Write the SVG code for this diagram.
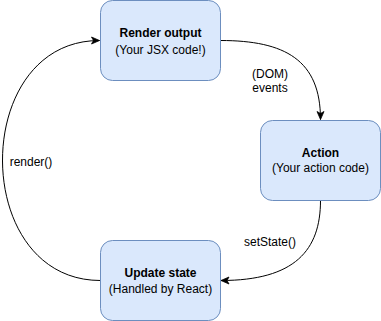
<svg xmlns="http://www.w3.org/2000/svg" width="381" height="321" viewBox="0 0 381 321">
  <style>
    .box { fill: #dae8fc; stroke: #6c8ebf; stroke-width: 1; }
    .t { font-family: "Liberation Sans", Arial, Helvetica, sans-serif; font-size: 12px; fill: #000; text-anchor: middle; }
    .b { font-weight: bold; }
    .edge { fill: none; stroke: #000; stroke-width: 1; }
  </style>
  <defs>
    <marker id="arrow" markerUnits="userSpaceOnUse" markerWidth="10" markerHeight="10" viewBox="0 0 10 10" refX="9" refY="5" orient="auto">
      <path d="M1,1.5 L9,5 L1,8.5 L3,5 z" fill="#000" stroke="#000" stroke-width="0.8"/>
    </marker>
  </defs>
  <rect width="381" height="321" fill="#fff"/>

  <g id="connectors">
    <path class="edge" d="M220.5,40.5 C285,40.5 320.5,60 320.5,119.5" marker-end="url(#arrow)"/>
    <path class="edge" d="M320.5,200.5 C320.5,250 295,280.5 221,280.5" marker-end="url(#arrow)"/>
    <path class="edge" d="M100.5,280.5 C-30,280.5 -30,40.5 99.5,40.5" marker-end="url(#arrow)"/>
    <text class="t" x="270" y="78">(DOM)</text>
    <text class="t" x="270" y="92">events</text>
    <text class="t" x="270" y="246">setState()</text>
    <text class="t" x="31" y="166">render()</text>
  </g>

  <g id="render-output">
    <rect class="box" x="100.5" y="0.5" width="120" height="80" rx="12" ry="12"/>
    <text class="t b" x="160.5" y="37">Render output</text>
    <text class="t" x="160.5" y="54">(Your JSX code!)</text>
  </g>

  <g id="action">
    <rect class="box" x="260.5" y="120.5" width="120" height="80" rx="12" ry="12"/>
    <text class="t b" x="320.5" y="157">Action</text>
    <text class="t" x="320.5" y="172">(Your action code)</text>
  </g>

  <g id="update-state">
    <rect class="box" x="100.5" y="240.5" width="120" height="80" rx="12" ry="12"/>
    <text class="t b" x="160.5" y="277">Update state</text>
    <text class="t" x="160.5" y="293">(Handled by React)</text>
  </g>
</svg>
